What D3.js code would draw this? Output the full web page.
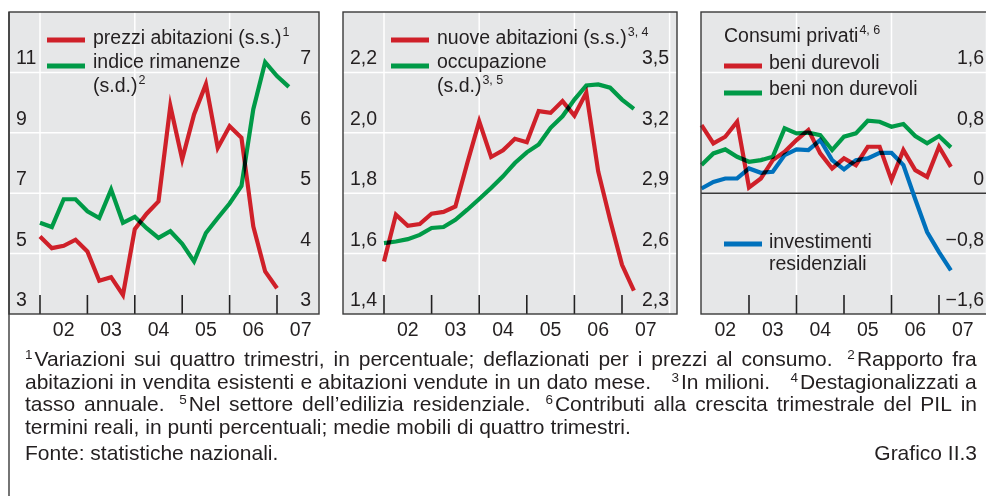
<!DOCTYPE html>
<html><head><meta charset="utf-8">
<script src="https://cdn.jsdelivr.net/npm/d3@7"></script>
<style>
html,body{margin:0;padding:0;background:#fff;}
svg{display:block;font-family:"Liberation Sans",Arial,sans-serif;}
</style></head><body>
<svg id="c" width="986" height="496"></svg>
<script>
// ---------- data ----------
const quarters = ["2002Q1","2002Q2","2002Q3","2002Q4","2003Q1","2003Q2","2003Q3","2003Q4",
  "2004Q1","2004Q2","2004Q3","2004Q4","2005Q1","2005Q2","2005Q3","2005Q4",
  "2006Q1","2006Q2","2006Q3","2006Q4","2007Q1","2007Q2"];
const yearLabels = ["02","03","04","05","06","07"];

// panel 1
const prezziAbitazioni = [5.57,5.18,5.26,5.46,5.07,4.10,4.22,3.63,5.81,6.32,6.73,9.89,8.12,9.61,10.61,8.50,9.22,8.84,5.90,4.41,3.85];
const indiceRimanenze = [4.51,4.44,4.90,4.90,4.70,4.59,5.06,4.51,4.61,4.42,4.26,4.37,4.16,3.87,4.34,4.59,4.83,5.12,6.39,7.17,6.94,6.76];
// panel 2
const nuoveAbitazioni = [1.574,1.729,1.692,1.698,1.732,1.738,1.756,1.900,2.038,1.920,1.942,1.980,1.969,2.072,2.066,2.105,2.057,2.133,1.872,1.712,1.563,1.477];
const occupazione = [2.652,2.660,2.672,2.693,2.727,2.732,2.768,2.818,2.871,2.926,2.984,3.050,3.103,3.142,3.225,3.282,3.365,3.435,3.440,3.424,3.365,3.319];
// panel 3
const beniDurevoli = [0.903,0.660,0.748,0.947,0.076,0.195,0.438,0.548,0.704,0.837,0.527,0.328,0.461,0.372,0.615,0.615,0.173,0.571,0.305,0.216,0.615,0.349];
const beniNonDurevoli = [0.372,0.527,0.580,0.482,0.416,0.438,0.482,0.859,0.793,0.801,0.770,0.571,0.748,0.793,0.960,0.947,0.880,0.916,0.757,0.660,0.757,0.607];
const investimentiResidenziali = [0.062,0.150,0.195,0.195,0.328,0.270,0.283,0.505,0.580,0.571,0.704,0.438,0.315,0.438,0.461,0.535,0.535,0.372,-0.080,-0.514,-0.780,-1.023];

// tick labels
const p1LeftTicks = [3,5,7,9,11];
const p1RightTicks = [3,4,5,6,7];
const p2LeftTicks = [1.4,1.6,1.8,2.0,2.2];
const p2RightTicks = [2.3,2.6,2.9,3.2,3.5];
const p3RightTicks = [-1.6,-0.8,0,0.8,1.6];

const footLines = [
  "{1}Variazioni sui quattro trimestri, in percentuale; deflazionati per i prezzi al consumo. | {2}Rapporto fra",
  "abitazioni in vendita esistenti e abitazioni vendute in un dato mese. | {3}In milioni. | {4}Destagionalizzati a",
  "tasso annuale. | {5}Nel settore dell’edilizia residenziale. | {6}Contributi alla crescita trimestrale del PIL in",
  "termini reali, in punti percentuali; medie mobili di quattro trimestri."
];
const sourceText = "Fonte: statistiche nazionali.";
const chartId = "Grafico II.3";

// ---------- styles ----------
const RED = "#cf2029", GREEN = "#009a47", BLUE = "#0071bc";
const BG = "#e6e7e8", TXT = "#231f20", FRAME = "#3a3a3a";
const FS = 19.5;

const it = d3.formatLocale({decimal: ",", thousands: ".", grouping: [3], currency: ["", "€"], minus: "\u2212"});

const svg = d3.select("#c");
const qx = q => +q.slice(0,4) + (+q.slice(5) - 1) / 4;

const Y0 = 12, Y1 = 314;
const panels = [
  {x0: 9, x1: 319, t02: 40, t07: 277, rlab: 311,
   left: {domain: [3,13], ticks: p1LeftTicks, fmt: it.format("d")},
   right: {domain: [3,8], ticks: p1RightTicks, fmt: it.format("d")},
   series: [
     {data: prezziAbitazioni, axis: "left", color: RED},
     {data: indiceRimanenze, axis: "right", color: GREEN}
   ],
   legend: [
     {sw: {x: 47, y: 40, color: RED}, x: 93, y: 44, parts: [["prezzi abitazioni (s.s.)"],["1", true]]},
     {sw: {x: 47, y: 66, color: GREEN}, x: 93, y: 68, parts: [["indice rimanenze"]]},
     {x: 93, y: 92, parts: [["(s.d.)"],["2", true]]}
   ]},
  {x0: 343, x1: 677, t02: 384, t07: 622, rlab: 669,
   left: {domain: [1.4,2.4], ticks: p2LeftTicks, fmt: it.format(".1f")},
   right: {domain: [2.3,3.8], ticks: p2RightTicks, fmt: it.format(".1f")},
   series: [
     {data: nuoveAbitazioni, axis: "left", color: RED},
     {data: occupazione, axis: "right", color: GREEN}
   ],
   legend: [
     {sw: {x: 391, y: 40, color: RED}, x: 437, y: 43.5, parts: [["nuove abitazioni (s.s.)"],["3, 4", true]]},
     {sw: {x: 391, y: 66, color: GREEN}, x: 437, y: 68, parts: [["occupazione"]]},
     {x: 437, y: 92, parts: [["(s.d.)"],["3, 5", true]]}
   ]},
  {x0: 701, x1: 1000, t02: 701.5, t07: 939, rlab: 984,
   left: null,
   right: {domain: [-1.6,2.4], ticks: p3RightTicks, fmt: it.format(".1~f"), zero: true},
   series: [
     {data: beniNonDurevoli, axis: "right", color: GREEN},
     {data: beniDurevoli, axis: "right", color: RED},
     {data: investimentiResidenziali, axis: "right", color: BLUE}
   ],
   legend: [
     {x: 724, y: 42, parts: [["Consumi privati"],["4, 6", true]]},
     {sw: {x: 724, y: 66, color: RED}, x: 769, y: 68.5, parts: [["beni durevoli"]]},
     {sw: {x: 724, y: 93, color: GREEN}, x: 769, y: 95, parts: [["beni non durevoli"]]},
     {sw: {x: 724, y: 244, color: BLUE}, x: 769, y: 247.5, parts: [["investimenti"]]},
     {x: 769, y: 269.5, parts: [["residenziali"]]}
   ]}
];

panels.forEach(p => {
  const g = svg.append("g");
  const x = d3.scaleLinear().domain([2002, 2007]).range([p.t02, p.t07]);
  const yL = p.left ? d3.scaleLinear().domain(p.left.domain).range([Y1, Y0]) : null;
  const yR = d3.scaleLinear().domain(p.right.domain).range([Y1, Y0]);
  const gridAxis = p.left ? {s: yL, t: p.left.ticks} : {s: yR, t: p.right.ticks};

  g.append("rect").attr("x", p.x0).attr("y", Y0).attr("width", p.x1 - p.x0).attr("height", Y1 - Y0).attr("fill", BG);

  // vertical gridlines every two years
  const years = yearLabels.map(l => 2000 + +l);
  const vgrid = [years[0], years[2], years[4], years[4] + 2].filter(v => x(v) > p.x0 + 1 && x(v) < p.x1 - 1);
  g.selectAll(".vg").data(vgrid).join("line")
    .attr("x1", d => x(d)).attr("x2", d => x(d)).attr("y1", Y0).attr("y2", Y1)
    .attr("stroke", "#fff").attr("stroke-width", 1.5);
  // horizontal gridlines
  g.selectAll(".hg").data(gridAxis.t.filter(v => v !== gridAxis.t[0] && v !== 0)).join("line")
    .attr("x1", p.x0).attr("x2", p.x1).attr("y1", d => gridAxis.s(d)).attr("y2", d => gridAxis.s(d))
    .attr("stroke", "#fff").attr("stroke-width", 1.5);
  if (p.right.zero) {
    g.append("line").attr("x1", p.x0).attr("x2", p.x1).attr("y1", yR(0)).attr("y2", yR(0))
      .attr("stroke", FRAME).attr("stroke-width", 1.4);
  }
  // year ticks
  g.selectAll(".tk").data(years.filter(v => x(v) > p.x0 + 1)).join("line")
    .attr("x1", d => x(d)).attr("x2", d => x(d)).attr("y1", Y1 - 19).attr("y2", Y1)
    .attr("stroke", "#222").attr("stroke-width", 1.6);

  // series
  const lg = g.append("g").style("isolation", "isolate");
  p.series.forEach(s => {
    const ys = s.axis === "left" ? yL : yR;
    const line = d3.line().x((d, i) => x(qx(quarters[i]))).y(d => ys(d));
    lg.append("path").attr("d", line(s.data)).attr("fill", "none")
      .attr("stroke", s.color).attr("stroke-width", 4.2).attr("stroke-linejoin", "miter")
      .attr("stroke-miterlimit", 6).style("mix-blend-mode", "multiply");
  });

  // frame
  g.append("rect").attr("x", p.x0).attr("y", Y0).attr("width", p.x1 - p.x0).attr("height", Y1 - Y0)
    .attr("fill", "none").attr("stroke", FRAME).attr("stroke-width", 1.4);

  // axis labels
  if (p.left) {
    g.selectAll(".ll").data(p.left.ticks).join("text")
      .attr("x", p.x0 + 7).attr("y", d => yL(d) - 8)
      .attr("font-size", FS).attr("fill", TXT).text(d => p.left.fmt(d));
  }
  g.selectAll(".rl").data(p.right.ticks).join("text")
    .attr("x", p.rlab).attr("y", d => yR(d) - 8).attr("text-anchor", "end")
    .attr("font-size", FS).attr("fill", TXT).text(d => p.right.fmt(d));
  // year labels
  g.selectAll(".yl").data(yearLabels).join("text")
    .attr("x", d => x(2000 + +d + 0.5)).attr("y", 336).attr("text-anchor", "middle")
    .attr("font-size", FS).attr("fill", TXT).text(d => d);

  // legend
  p.legend.forEach(l => {
    if (l.sw) g.append("line").attr("x1", l.sw.x).attr("x2", l.sw.x + 38).attr("y1", l.sw.y).attr("y2", l.sw.y)
      .attr("stroke", l.sw.color).attr("stroke-width", 5);
    const t = g.append("text").attr("x", l.x).attr("y", l.y).attr("font-size", FS).attr("fill", TXT);
    l.parts.forEach(([txt, sup]) => {
      const ts = t.append("tspan").text(txt);
      if (sup) ts.attr("font-size", 12.5).attr("dy", -8).attr("dx", 1);
    });
  });
});

// outer left rule
svg.append("line").attr("x1", 9).attr("x2", 9).attr("y1", Y0).attr("y2", 496)
  .attr("stroke", FRAME).attr("stroke-width", 1.4);

// ---------- footnotes ----------
const FFS = 21;
const FX0 = 25, FX1 = 977;
const fBase = [366, 388.5, 411, 433.5];
const extraBig = [6, 14, 6];
const fg = svg.append("g").attr("fill", TXT).attr("font-size", FFS);
function makeUnit(word, y) {
  const m = word.match(/^\{(\d)\}(.*)$/);
  const t = fg.append("text").attr("y", y);
  if (m) {
    t.append("tspan").attr("font-size", 13.5).attr("dy", -7).text(m[1]);
    t.append("tspan").attr("dy", 7).attr("dx", 2).text(m[2]);
  } else t.text(word);
  return t;
}
footLines.forEach((line, li) => {
  const y = fBase[li];
  const tokens = line.split(" ");
  const units = [];
  let big = false;
  tokens.forEach(tok => {
    if (tok === "|") { big = true; return; }
    units.push({t: makeUnit(tok, y), big});
    big = false;
  });
  const w = units.map(u => u.t.node().getBBox().width);
  const total = d3.sum(w);
  const nG = units.length - 1;
  const nBig = units.filter(u => u.big).length;
  let gap;
  if (li < 3) gap = (FX1 - FX0 - total - nBig * extraBig[li]) / nG;
  else gap = FFS * 0.278;
  let cx = FX0;
  units.forEach((u, i) => {
    if (i > 0) cx += gap + (u.big ? extraBig[li] : 0);
    u.t.attr("x", cx);
    u.t.selectAll("tspan").filter((d, j) => j === 0).attr("x", cx);
    cx += w[i];
  });
});
fg.append("text").attr("x", FX0).attr("y", 460).text(sourceText);
fg.append("text").attr("x", FX1).attr("y", 460).attr("text-anchor", "end").text(chartId);
</script>
</body></html>
